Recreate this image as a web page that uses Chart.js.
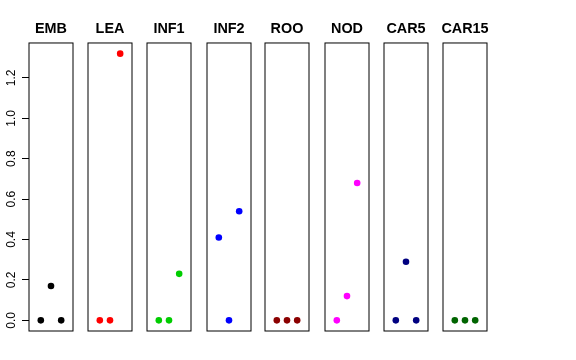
<!DOCTYPE html>
<html>
<head>
<meta charset="utf-8">
<script src="https://cdn.jsdelivr.net/npm/chart.js@4/dist/chart.umd.min.js"></script>
<style>
  html, body { margin: 0; padding: 0; background: #fff; }
  #wrap { position: relative; width: 576px; height: 360px; overflow: hidden; }
  #wrap canvas { position: absolute; top: 0; }
</style>
</head>
<body>
<div id="wrap"></div>
<script>
// ── DATA ──
const groups = ['EMB', 'LEA', 'INF1', 'INF2', 'ROO', 'NOD', 'CAR5', 'CAR15'];
const xPos   = [1, 2, 3];

const emb   = [0, 0.17, 0];
const lea   = [0, 0, 1.32];
const inf1  = [0, 0, 0.23];
const inf2  = [0.41, 0, 0.54];
const roo   = [0, 0, 0];
const nod   = [0, 0.12, 0.68];
const car5  = [0, 0.29, 0];
const car15 = [0, 0, 0];
const seriesValues = [emb, lea, inf1, inf2, roo, nod, car5, car15];

const colors = ['#000000', '#FF0000', '#00CD00', '#0000FF', '#8B0000', '#FF00FF', '#000080', '#006400'];
const yTicks = [0, 0.2, 0.4, 0.6, 0.8, 1.0, 1.2];

// ── LAYOUT ──
const boxLeft = [29, 88, 147, 207, 265, 325, 384, 443];
const BOX_W   = 44;
const SIDE    = 29;      // y axis room on the left, same dummy room on the right so titles centre on the box
const CANVAS_H = 340;
const FONT = '"Liberation Sans", Arial, Helvetica, sans-serif';

// R-style axis limits: data range padded by 4% each side
const allVals = seriesValues.flat();
const dMin = Math.min(...allVals), dMax = Math.max(...allVals);
const yMin = dMin - 0.04 * (dMax - dMin);
const yMax = dMax + 0.04 * (dMax - dMin);
const xMin = 0 - 0.04 * 4, xMax = 4 + 0.04 * 4;

// box around every panel
const boxPlugin = {
    id: 'panelBox',
    afterDraw(chart) {
        const { ctx, chartArea: a } = chart;
        ctx.save();
        ctx.strokeStyle = '#000';
        ctx.lineWidth = 1;
        ctx.strokeRect(a.left, a.top, a.right - a.left, a.bottom - a.top);
        ctx.restore();
    }
};

const wrap = document.getElementById('wrap');

groups.forEach((name, i) => {
    const cv = document.createElement('canvas');
    cv.width = BOX_W + SIDE * 2;
    cv.height = CANVAS_H;
    cv.style.left = (boxLeft[i] - SIDE) + 'px';
    wrap.appendChild(cv);

    const first = i === 0;

    new Chart(cv, {
        type: 'scatter',
        data: {
            datasets: [{
                data: xPos.map((x, k) => ({ x, y: seriesValues[i][k] })),
                backgroundColor: colors[i],
                borderColor: colors[i],
                borderWidth: 0,
                pointRadius: 3.3,
                pointHoverRadius: 3.3
            }]
        },
        options: {
            responsive: false,
            animation: false,
            events: [],
            layout: { padding: { left: 0, right: 0, top: 0, bottom: CANVAS_H - 331 } },
            plugins: {
                legend: { display: false },
                tooltip: { enabled: false },
                title: {
                    display: true,
                    text: name,
                    color: '#000',
                    font: { family: FONT, size: 14.4, weight: 'bold', lineHeight: 1.2 },
                    padding: { top: 20.5, bottom: 5.2 }
                }
            },
            scales: {
                x: { type: 'linear', min: xMin, max: xMax, display: false },
                y: {
                    type: 'linear',
                    position: 'left',
                    min: yMin,
                    max: yMax,
                    display: first,
                    afterFit: s => { s.width = SIDE; },
                    afterBuildTicks: s => { s.ticks = yTicks.map(v => ({ value: v })); },
                    border: { display: false },
                    grid: { drawOnChartArea: false, drawTicks: true, tickLength: 7, color: '#000', lineWidth: 1 },
                    ticks: {
                        color: '#000',
                        font: { family: FONT, size: 12 },
                        minRotation: 90,
                        maxRotation: 90,
                        crossAlign: 'center',
                        padding: 1.5,
                        callback: v => Number(v).toFixed(1)
                    }
                },
                yPad: {
                    type: 'linear',
                    position: 'right',
                    display: false,
                    afterFit: s => { s.width = SIDE; }
                }
            }
        },
        plugins: [boxPlugin]
    });
});
</script>
</body>
</html>
